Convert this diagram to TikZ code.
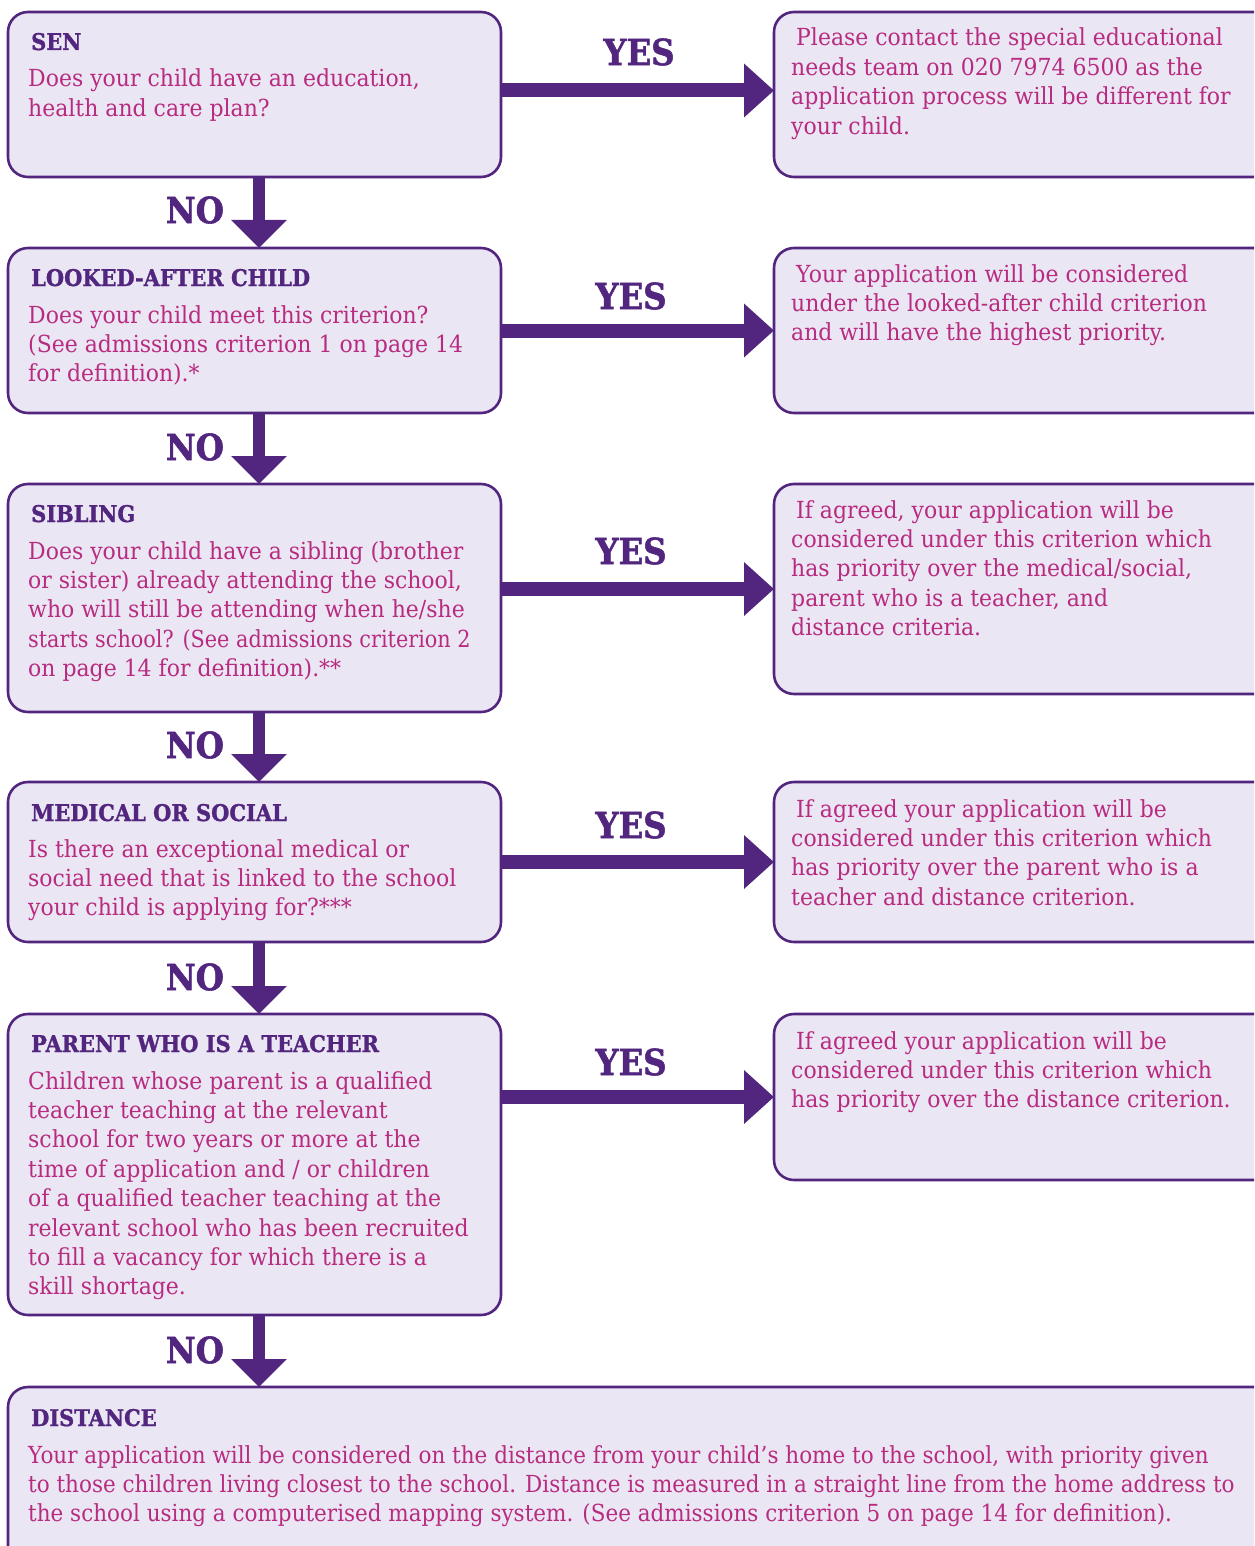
\documentclass[tikz,border=0pt]{standalone}
\usepackage{fontspec}
\setmainfont{DejaVu Serif}[FakeStretch=0.935]
\newfontfamily\distfont{DejaVu Serif}[FakeStretch=0.915]
\newfontfamily\narrowfont{DejaVu Serif}[FakeStretch=0.885]
\newfontfamily\headfont{DejaVu Serif Bold}[FakeStretch=0.91, FakeBold=1.2]
\newfontfamily\yesnofont{DejaVu Serif Bold}[FakeStretch=0.9, FakeBold=1.5]
\usetikzlibrary{arrows.meta}
\definecolor{pp}{HTML}{52267F}
\definecolor{bg}{HTML}{EBE6F3}
\definecolor{mg}{HTML}{B72B80}
\tikzset{
  box/.style={draw=pp, fill=bg, line width=2.6pt, rounded corners=20pt, inner sep=0pt, outer sep=0pt, anchor=north west},
  head/.style={anchor=base west, inner sep=0pt, text=pp, font=\headfont\fontsize{23}{29.4}\selectfont},
  body/.style={anchor=base west, inner sep=0pt, text=mg, font=\fontsize{23.5}{29.4}\selectfont},
  yesno/.style={inner sep=0pt, text=pp, font=\yesnofont\fontsize{36}{36}\selectfont},
  harrow/.style={draw=pp, line width=14pt, -{Triangle[width=52pt,length=30pt]}},
  varrow/.style={draw=pp, line width=12pt, -{Triangle[width=54pt,length=28pt]}}
}
\newcommand{\txt}[1]{\parbox[t]{1240pt}{\raggedright\baselineskip=29.4pt #1}}
\begin{document}
\begin{tikzpicture}[x=1pt,y=-1pt]
\useasboundingbox (0,0) rectangle (1254,1546);
\begin{scope}
\clip (0,0) rectangle (1254,1546);
% question boxes
\node[box, minimum width=493pt, minimum height=165pt] (q1) at (8,12) {};
\node[box, minimum width=493pt, minimum height=165pt] (q2) at (8,248) {};
\node[box, minimum width=493pt, minimum height=228pt] (q3) at (8,484) {};
\node[box, minimum width=493pt, minimum height=160pt] (q4) at (8,782) {};
\node[box, minimum width=493pt, minimum height=301pt] (q5) at (8,1014) {};
\node[box, minimum width=1280pt, minimum height=190pt] (q6) at (8,1387) {};
% answer boxes
\node[box, minimum width=510pt, minimum height=165pt] (a1) at (774,12) {};
\node[box, minimum width=510pt, minimum height=165pt] (a2) at (774,248) {};
\node[box, minimum width=510pt, minimum height=210pt] (a3) at (774,484) {};
\node[box, minimum width=510pt, minimum height=160pt] (a4) at (774,782) {};
\node[box, minimum width=510pt, minimum height=166pt] (a5) at (774,1014) {};
\coordinate (a1in) at ([yshift=4pt]a1.west);
% headings
\node[head] (h1) at (31,50) {SEN};
\node[head] (h2) at (31,286) {LOOKED-AFTER CHILD};
\node[head] (h3) at (31,522) {SIBLING};
\node[head] (h4) at (31,821) {MEDICAL OR SOCIAL};
\node[head] (h5) at (31,1052) {PARENT WHO IS A TEACHER};
\node[head] (h6) at (31,1426) {DISTANCE};
% question texts
\node[body] (t1) at (28,87) {\txt{Does your child have an education,\\health and care plan?}};
\node[body] (t2) at (28,323) {\txt{Does your child meet this criterion?\\(See admissions criterion 1 on page 14\\for definition).*}};
\node[body] (t3) at (28,559) {\txt{Does your child have a sibling (brother\\or sister) already attending the school,\\who will still be attending when he/she\\{\narrowfont starts school? (See admissions criterion 2}\\on page 14 for definition).**}};
\node[body] (t4) at (28,857) {\txt{Is there an exceptional medical or\\social need that is linked to the school\\your child is applying for?***}};
\node[body] (t5) at (28,1089) {\txt{Children whose parent is a qualified\\teacher teaching at the relevant\\school for two years or more at the\\time of application and / or children\\of a qualified teacher teaching at the\\relevant school who has been recruited\\to fill a vacancy for which there is a\\skill shortage.}};
\node[body, font=\distfont\fontsize{23.5}{29.4}\selectfont] (t6) at (28,1463) {\txt{Your application will be considered on the distance from your child’s home to the school, with priority given\\to those children living closest to the school. Distance is measured in a straight line from the home address to\\the school using a computerised mapping system. (See admissions criterion 5 on page 14 for definition).}};
% answer texts
\node[body] (r1) at (791,46) {\txt{\hspace*{5pt}Please contact the special educational\\needs team on 020 7974 6500 as the\\application process will be different for\\your child.}};
\node[body] (r2) at (791,282) {\txt{\hspace*{5pt}Your application will be considered\\under the looked-after child criterion\\and will have the highest priority.}};
\node[body] (r3) at (791,518) {\txt{\hspace*{5pt}If agreed, your application will be\\considered under this criterion which\\has priority over the medical/social,\\parent who is a teacher, and\\distance criteria.}};
\node[body] (r4) at (791,817) {\txt{\hspace*{5pt}If agreed your application will be\\considered under this criterion which\\has priority over the parent who is a\\teacher and distance criterion.}};
\node[body] (r5) at (791,1049) {\txt{\hspace*{5pt}If agreed your application will be\\considered under this criterion which\\has priority over the distance criterion.}};
% yes arrows
\draw[harrow] (q1.east |- a1in) -- (a1in);
\draw[harrow] (q2.east |- a2.west) -- (a2.west);
\draw[harrow] (q3.east |- a3.west) -- (a3.west);
\draw[harrow] (q4.east |- a4.west) -- (a4.west);
\draw[harrow] (q5.east |- a5.west) -- (a5.west);
% no arrows
\draw[varrow] ([xshift=4.5pt]q1.south) -- ([xshift=4.5pt]q2.north);
\draw[varrow] ([xshift=4.5pt]q2.south) -- ([xshift=4.5pt]q3.north);
\draw[varrow] ([xshift=4.5pt]q3.south) -- ([xshift=4.5pt]q4.north);
\draw[varrow] ([xshift=4.5pt]q4.south) -- ([xshift=4.5pt]q5.north);
\draw[varrow] ([xshift=4.5pt]q5.south) -- ([xshift=4.5pt]q5.south |- q6.north);
% labels
\node[yesno] (y1) at (639,52) {YES};
\node[yesno] (y2) at (631,296) {YES};
\node[yesno] (y3) at (631,551) {YES};
\node[yesno] (y4) at (631,825) {YES};
\node[yesno] (y5) at (631,1062) {YES};
\node[yesno] (n1) at (195,210) {NO};
\node[yesno] (n2) at (195,447) {NO};
\node[yesno] (n3) at (195,745) {NO};
\node[yesno] (n4) at (195,977) {NO};
\node[yesno] (n5) at (195,1350) {NO};
\end{scope}
\end{tikzpicture}
\end{document}
